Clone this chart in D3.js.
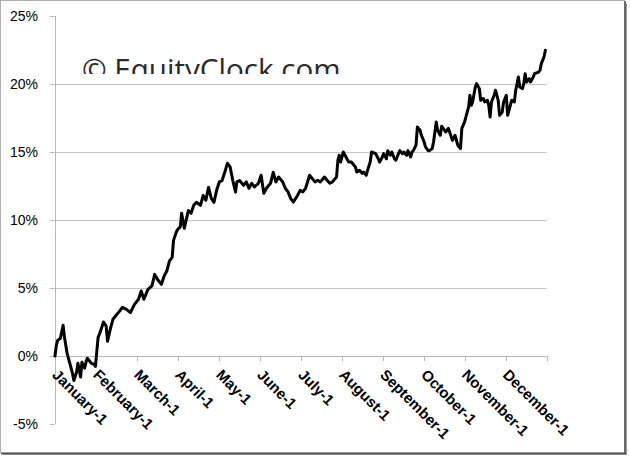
<!DOCTYPE html>
<html>
<head>
<meta charset="utf-8">
<script src="https://cdn.jsdelivr.net/npm/d3@7"></script>
<style>
  body { margin: 0; background: #fff; }
  svg { display: block; }
</style>
</head>
<body>
<div id="chart"></div>
<script>
// average seasonal return (day of year, % gain)
var dayOfYear = [0, 1, 2, 4, 6, 7, 9, 11, 13, 14, 16, 17, 19, 20, 22, 23, 24, 27, 29, 30,
  32, 33, 36, 38, 39, 41, 43, 46, 48, 50, 53, 56, 59, 62, 64, 66, 69, 72, 74, 76,
  79, 81, 83, 85, 87, 88, 90, 91, 93, 94, 96, 99, 101, 103, 105, 108, 110, 112, 114, 116,
  118, 120, 122, 124, 126, 128, 130, 132, 134, 135, 137, 140, 142, 144, 146, 148, 151, 153, 155, 157,
  160, 162, 164, 166, 169, 171, 173, 175, 177, 180, 182, 184, 186, 189, 191, 193, 195, 197, 200, 202,
  204, 206, 209, 210, 211, 212, 214, 216, 218, 220, 223, 224, 226, 228, 229, 231, 232, 234, 235, 238,
  240, 241, 243, 244, 246, 247, 249, 250, 252, 253, 255, 256, 258, 259, 261, 262, 264, 265, 266, 268,
  269, 271, 272, 274, 275, 277, 278, 280, 281, 283, 284, 286, 287, 290, 292, 295, 297, 299, 301, 302,
  304, 305, 307, 308, 309, 310, 312, 313, 315, 316, 318, 319, 321, 322, 323, 324, 326, 327, 329, 330,
  332, 333, 335, 336, 338, 339, 341, 342, 344, 345, 347, 348, 349, 350, 352, 353, 355, 356, 359, 360,
  361, 363, 364];

var avgReturn = [0.0, 0.8, 1.15, 1.3, 2.26, 1.4, 0.2, -0.54, -1.27, -1.8, -1.2, -0.54, -1.55, -0.46, -0.9, -0.46, -0.17, -0.54, -0.6, -0.76,
  1.37, 1.6, 2.5, 2.2, 1.08, 1.96, 2.7, 3.07, 3.3, 3.58, 3.43, 3.2, 3.8, 4.17, 4.78, 4.17, 4.9, 5.15, 6.0, 5.64,
  5.27, 5.88, 6.25, 6.99, 7.26, 8.5, 9.1, 9.3, 9.49, 10.5, 9.39, 10.7, 10.5, 11.08, 11.3, 11.08, 11.8, 11.45, 12.4, 11.6,
  11.3, 12.2, 12.8, 12.9, 13.5, 14.17, 13.9, 12.9, 12.06, 12.8, 12.9, 12.55, 12.8, 12.33, 12.7, 12.43, 12.7, 13.29, 11.96, 12.33,
  12.7, 13.5, 12.8, 13.16, 12.8, 12.33, 12.06, 11.57, 11.32, 11.8, 12.18, 12.06, 12.33, 13.29, 13.04, 12.8, 12.92, 12.8, 13.16, 12.92,
  12.7, 12.8, 13.16, 14.4, 14.76, 14.26, 15.0, 14.63, 14.26, 14.26, 13.9, 13.53, 13.65, 13.43, 13.53, 13.29, 13.65, 14.26, 15.0, 14.88,
  14.5, 14.26, 14.63, 14.88, 14.5, 15.1, 14.76, 15.0, 14.5, 14.4, 14.88, 15.1, 14.88, 15.0, 14.76, 15.1, 14.63, 15.0, 15.1, 15.5,
  16.84, 16.6, 16.23, 15.74, 15.37, 15.1, 15.1, 15.25, 15.74, 17.2, 16.6, 16.23, 16.9, 16.47, 16.74, 15.86, 16.23, 15.5, 15.25, 16.74,
  17.2, 17.57, 18.3, 19.17, 18.43, 18.68, 19.78, 20.03, 19.66, 18.8, 18.93, 18.68, 18.8, 18.43, 17.57, 18.68, 19.17, 19.54, 18.8, 17.7,
  17.94, 18.68, 19.17, 17.7, 18.43, 18.8, 18.68, 19.54, 20.51, 19.78, 19.66, 20.03, 20.76, 20.15, 20.4, 20.15, 20.51, 20.76, 20.88, 21.0,
  21.5, 21.99, 22.48];

var months = ["January-1", "February-1", "March-1", "April-1", "May-1", "June-1",
  "July-1", "August-1", "September-1", "October-1", "November-1", "December-1"];

var yTicks = [-5, 0, 5, 10, 15, 20, 25];

var width = 630, height = 458;

var svg = d3.select("#chart").append("svg")
    .attr("width", width)
    .attr("height", height);

// frame with a little drop shadow on the right/bottom
svg.append("rect")
    .attr("x", 3).attr("y", 3).attr("width", 624).attr("height", 452)
    .attr("fill", "#9a9a9a");
svg.append("rect")
    .attr("x", 0.5).attr("y", 0.5).attr("width", 624).attr("height", 452)
    .attr("fill", "#fff")
    .attr("stroke", "#b0b0b0");
svg.append("line")
    .attr("x1", 625).attr("x2", 625).attr("y1", 1).attr("y2", 454)
    .attr("stroke", "#555").attr("stroke-width", 1.5);
svg.append("line")
    .attr("x1", 1).attr("x2", 626).attr("y1", 453.5).attr("y2", 453.5)
    .attr("stroke", "#555").attr("stroke-width", 1.5);

var x = d3.scaleLinear().domain([0, 365]).range([55, 546.7]);
var y = d3.scaleLinear().domain([-5, 25]).range([424, 16]);

// horizontal gridlines
svg.append("g").selectAll("line")
    .data(yTicks.filter(function (d) { return d > 0 && d < 25; }))
  .enter().append("line")
    .attr("x1", x(0)).attr("x2", x(365))
    .attr("y1", function (d) { return Math.round(y(d)) + 0.5; })
    .attr("y2", function (d) { return Math.round(y(d)) + 0.5; })
    .attr("stroke", "#c4c4c4");

// y axis
var yAxis = svg.append("g").attr("class", "y-axis");
yAxis.append("line")
    .attr("x1", 55.5).attr("x2", 55.5)
    .attr("y1", y(25)).attr("y2", y(-5))
    .attr("stroke", "#b8b8b8");
yAxis.selectAll("line.tick")
    .data(yTicks)
  .enter().append("line")
    .attr("class", "tick")
    .attr("x1", 50).attr("x2", 55)
    .attr("y1", function (d) { return Math.round(y(d)) + 0.5; })
    .attr("y2", function (d) { return Math.round(y(d)) + 0.5; })
    .attr("stroke", "#b8b8b8");
yAxis.selectAll("text")
    .data(yTicks)
  .enter().append("text")
    .attr("x", 38)
    .attr("y", function (d) { return y(d); })
    .attr("dy", "0.36em")
    .attr("text-anchor", "end")
    .style("font-family", "'Liberation Sans', Arial, sans-serif")
    .style("font-size", "14px")
    .style("fill", "#000")
    .text(function (d) { return d + "%"; });

// x axis sits on the 0% line
var monthPos = months.map(function (m, i) { return x(i * 365 / 12); });
var xAxis = svg.append("g").attr("class", "x-axis");
xAxis.append("line")
    .attr("x1", x(0)).attr("x2", x(365))
    .attr("y1", Math.round(y(0)) + 0.5).attr("y2", Math.round(y(0)) + 0.5)
    .attr("stroke", "#b8b8b8");
xAxis.selectAll("line.tick")
    .data(monthPos.concat([x(365)]))
  .enter().append("line")
    .attr("class", "tick")
    .attr("x1", function (d) { return Math.round(d) + 0.5; })
    .attr("x2", function (d) { return Math.round(d) + 0.5; })
    .attr("y1", y(0)).attr("y2", y(0) + 5)
    .attr("stroke", "#b8b8b8");
xAxis.selectAll("text")
    .data(months)
  .enter().append("text")
    .attr("transform", function (d, i) {
      return "translate(" + (monthPos[i] + 4) + "," + 368 + ") rotate(45)";
    })
    .attr("dy", "0.72em")
    .attr("text-anchor", "start")
    .style("font-family", "'Liberation Sans', Arial, sans-serif")
    .style("font-size", "15px")
    .style("font-weight", "bold")
    .style("fill", "#000")
    .text(function (d) { return d; });

// watermark, cut off at the bottom like the original
svg.append("clipPath").attr("id", "wm-clip")
  .append("rect").attr("x", 0).attr("y", 0).attr("width", 630).attr("height", 74);
svg.append("text")
    .attr("clip-path", "url(#wm-clip)")
    .attr("x", 82)
    .attr("y", 80)
    .style("font-family", "'Open Sans', sans-serif")
    .style("font-size", "29.6px")
    .style("fill", "#2a2a2a")
    .text("\u00A9 EquityClock.com");

// the seasonal line
var line = d3.line()
    .x(function (d, i) { return x(dayOfYear[i]); })
    .y(function (d) { return y(d); });

svg.append("path")
    .datum(avgReturn)
    .attr("d", line)
    .attr("fill", "none")
    .attr("stroke", "#000")
    .attr("stroke-width", 3)
    .attr("stroke-linejoin", "round")
    .attr("stroke-linecap", "round");
</script>
</body>
</html>
